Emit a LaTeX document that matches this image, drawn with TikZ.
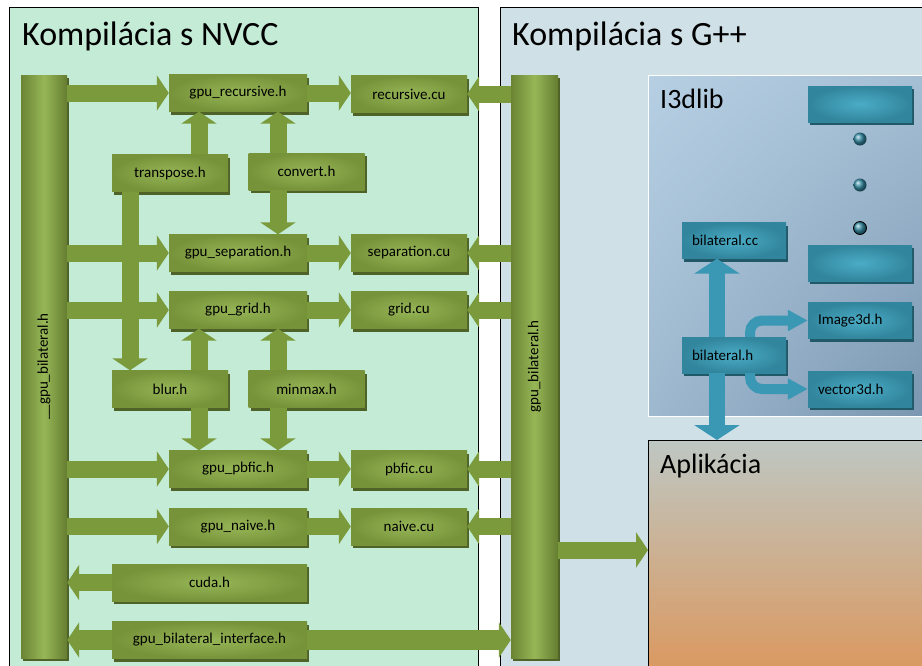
\documentclass[tikz,border=0pt]{standalone}
\usepackage{fontspec}
\setmainfont{Carlito}
\usepackage{graphicx}
\usetikzlibrary{arrows.meta,shadows,shadings}

\definecolor{nvccbg}{RGB}{195,235,214}
\definecolor{gppbg}{RGB}{207,225,231}
\definecolor{olivedark}{RGB}{79,98,40}
\definecolor{olivemid}{RGB}{119,147,58}
\definecolor{olivelight}{RGB}{150,182,86}
\definecolor{olivearrow}{RGB}{122,154,60}
\definecolor{tealmid}{RGB}{49,133,156}
\definecolor{teallight}{RGB}{75,172,198}
\definecolor{tealdark}{RGB}{33,89,104}
\definecolor{tealarrow}{RGB}{58,152,180}
\definecolor{libtop}{RGB}{182,207,227}
\definecolor{libbot}{RGB}{122,150,176}
\definecolor{apptop}{RGB}{190,199,195}
\definecolor{appbot}{RGB}{219,152,94}

\tikzset{
  gbox/.style={rectangle, inner color=olivelight, outer color=olivemid,
    minimum height=37pt, inner sep=0pt, font=\fontsize{15}{18}\selectfont,
    drop shadow={shadow xshift=2pt, shadow yshift=-3pt, fill=olivedark, opacity=1}},
  hbox/.style={gbox, minimum width=138pt},
  cubox/.style={gbox, minimum width=116pt},
  wbox/.style={gbox, minimum width=195pt},
  bar/.style={rectangle, left color=olivemid!90!black, right color=olivemid!85!black,
    middle color=olivelight, minimum width=46pt, minimum height=583pt, inner sep=0pt,
    font=\fontsize{15}{18}\selectfont,
    drop shadow={shadow xshift=2pt, shadow yshift=-3pt, fill=olivedark, opacity=1}},
  garrow/.style={draw=olivearrow, line width=17pt, -{Triangle[width=35pt,length=12pt]}},
  tbox/.style={rectangle, inner color=teallight, outer color=tealmid,
    minimum width=104pt, minimum height=36pt, inner xsep=10pt, inner ysep=0pt,
    text width=84pt, align=left, font=\fontsize{15}{18}\selectfont,
    drop shadow={shadow xshift=2pt, shadow yshift=-3pt, fill=tealdark, opacity=1}},
  tdot/.style={circle, ball color=tealmid!80!teallight, minimum size=13pt, inner sep=0pt},
  tarrow/.style={draw=tealarrow, line width=16pt, -{Triangle[width=45pt,length=15pt]}},
  tcurve/.style={draw=tealarrow, line width=10pt, rounded corners=12pt,
    -{Triangle[width=20pt,length=20pt]}},
  title/.style={anchor=base west, inner sep=0pt, font=\fontsize{34}{40}\selectfont},
  subtitle/.style={anchor=base west, inner sep=0pt, font=\fontsize{28}{32}\selectfont},
}

\begin{document}
\begin{tikzpicture}[x=1pt, y=-1pt]
    \useasboundingbox (0,0) rectangle (922,665);

    % Compilation areas
    \draw[fill=nvccbg] (9,7) rectangle (478,672);
    \draw[fill=gppbg] (500,7) rectangle (930,672);
    \node[title] (nvcc) at (22,45) {Kompilácia s NVCC};
    \node[title] (gpp) at (512,45) {Kompilácia s G++};

    % Library and application
    \draw[draw=white, upper left=libtop, upper right=libtop!70!libbot,
          lower left=libtop!60!libbot, lower right=libbot] (648,75) rectangle (926,416);
    \node[subtitle] (lib) at (660,108) {I3dlib};
    \node[rectangle, draw=black, anchor=north west, minimum width=280pt, minimum height=235pt,
          top color=apptop, bottom color=appbot] (app) at (648,440) {};
    \node[subtitle] (apptitle) at (660,473) {Aplikácia};

    % Interface bars
    \node[bar] (bar1) at (44,366.5) {\rotatebox{90}{\_\_gpu\_bilateral.h}};
    \node[bar, minimum width=47pt] (bar2) at (534.5,366.5) {\rotatebox{90}{gpu\_bilateral.h}};

    % Headers and sources
    \node[hbox] (rech) at (238,93) {gpu\_recursive.h};
    \node[cubox] (reccu) at (409,94) {recursive.cu};
    \node[cubox] (transp) at (170,173) {transpose.h};
    \node[cubox] (conv) at (306.5,171.5) {convert.h};
    \node[hbox] (seph) at (238,253) {gpu\_separation.h};
    \node[cubox] (sepcu) at (409,253) {separation.cu};
    \node[hbox] (gridh) at (238,310) {gpu\_grid.h};
    \node[cubox] (gridcu) at (409,310) {grid.cu};
    \node[cubox] (blur) at (170,389) {blur.h};
    \node[cubox] (minmax) at (306.5,389) {minmax.h};
    \node[hbox] (pbfich) at (238,469) {gpu\_pbfic.h};
    \node[cubox] (pbficcu) at (409,469) {pbfic.cu};
    \node[hbox] (naiveh) at (238,526.5) {gpu\_naive.h};
    \node[cubox] (naivecu) at (409,526.5) {naive.cu};
    \node[wbox] (cuda) at (209.5,582.5) {cuda.h};
    \node[wbox] (iface) at (209.5,640) {gpu\_bilateral\_interface.h};

    % I3dlib files
    \node[tbox] (blank1) at (860,104) {};
    \node[tdot] (dot1) at (860,139) {};
    \node[tdot] (dot2) at (860,185) {};
    \node[tdot, draw=black, line width=0.8pt] (dot3) at (860,228) {};
    \node[tbox] (blank2) at (860,263) {};
    \node[tbox] (bcc) at (734,240.5) {bilateral.cc};
    \node[tbox] (img) at (860,320.5) {Image3d.h};
    \node[tbox] (bh) at (734,355) {bilateral.h};
    \node[tbox] (vec) at (860,389) {vector3d.h};

    % Arrow columns
    \coordinate (colT) at (130,0);
    \coordinate (colA) at (199,0);
    \coordinate (colB) at (278,0);
    \coordinate (colL) at (717,0);
    \coordinate (colM) at (750,0);
    \coordinate (appin) at (0,550);

    % Vertical includes
    \draw[garrow] (transp.south -| colT) -- (blur.north -| colT);
    \draw[garrow] (transp.north -| colA) -- (rech.south -| colA);
    \draw[garrow] (conv.north -| colB) -- (rech.south -| colB);
    \draw[garrow] (conv.south -| colB) -- (seph.north -| colB);
    \draw[garrow] (blur.north -| colA) -- (gridh.south -| colA);
    \draw[garrow] (minmax.north -| colB) -- (gridh.south -| colB);
    \draw[garrow] (blur.south -| colA) -- (pbfich.north -| colA);
    \draw[garrow] (minmax.south -| colB) -- (pbfich.north -| colB);

    % Horizontal includes
    \foreach \h/\c in {rech/reccu, seph/sepcu, gridh/gridcu, pbfich/pbficcu, naiveh/naivecu} {
        \draw[garrow] (bar1.east |- \h.west) -- (\h.west);
        \draw[garrow] (\h.east) -- (\h.east -| \c.west);
        \draw[garrow] (bar2.west |- \c.east) -- (\c.east);
    }
    \draw[garrow] (cuda.west) -- (bar1.east |- cuda.west);
    \draw[garrow, line width=20pt] (iface.west) -- (bar1.east |- iface.west);
    \draw[garrow, line width=20pt] (iface.east) -- (bar2.west |- iface.east);
    \draw[garrow] (bar2.east |- appin) -- (app.west |- appin);

    % I3dlib includes
    \draw[tarrow] (bh.north -| colL) -- (bcc.south -| colL);
    \draw[tarrow] (bh.south -| colL) -- (app.north -| colL);
    \draw[tcurve] (bh.north -| colM) |- (img.west);
    \draw[tcurve] (bh.south -| colM) |- (vec.west);
\end{tikzpicture}
\end{document}
